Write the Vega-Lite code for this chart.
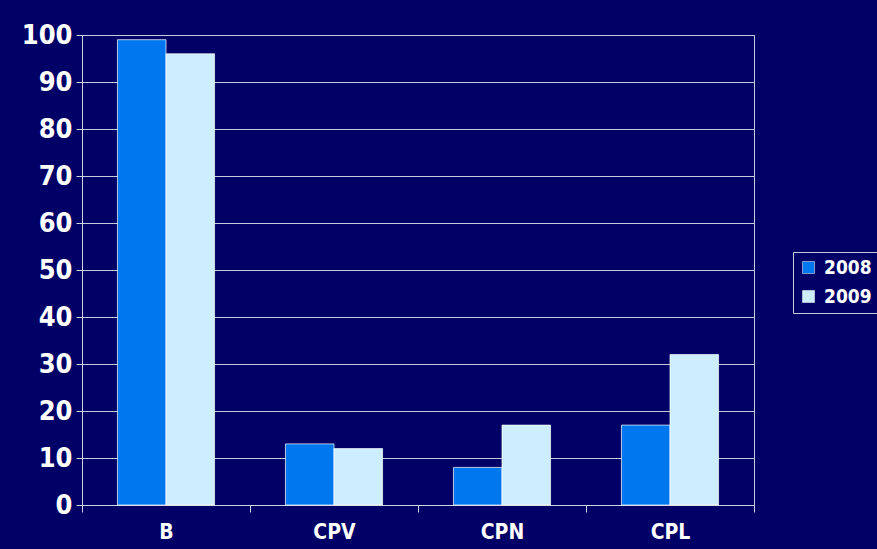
{
  "$schema": "https://vega.github.io/schema/vega-lite/v6.json",
  "autosize": "none",
  "width": 672,
  "height": 470,
  "padding": {"left": 82, "top": 35, "right": 123, "bottom": 44},
  "background": "#000066",
  "config": {
    "view": {"stroke": "#c8c8dc", "strokeWidth": 1},
    "font": "DejaVu Sans Condensed"
  },
  "data": {
    "values": [
      {"category": "B", "year": "2008", "value": 99},
      {"category": "B", "year": "2009", "value": 96},
      {"category": "CPV", "year": "2008", "value": 13},
      {"category": "CPV", "year": "2009", "value": 12},
      {"category": "CPN", "year": "2008", "value": 8},
      {"category": "CPN", "year": "2009", "value": 17},
      {"category": "CPL", "year": "2008", "value": 17},
      {"category": "CPL", "year": "2009", "value": 32}
    ]
  },
  "mark": {"type": "bar", "stroke": "#ffffff", "strokeWidth": 1, "strokeOpacity": 0.7},
  "encoding": {
    "x": {
      "field": "category",
      "type": "nominal",
      "sort": ["B", "CPV", "CPN", "CPL"],
      "scale": {"paddingInner": 0, "paddingOuter": 0},
      "axis": {
        "title": null,
        "labelAngle": 0,
        "labelColor": "#ffffff",
        "labelFontSize": 21,
        "labelFontWeight": "bold",
        "labelPadding": 9,
        "domainColor": "#d0d0e0",
        "tickColor": "#d0d0e0",
        "tickSize": 7,
        "tickBand": "extent",
        "grid": false
      }
    },
    "xOffset": {"field": "year", "type": "nominal", "scale": {"paddingInner": 0, "paddingOuter": 0.73}},
    "y": {
      "field": "value",
      "type": "quantitative",
      "scale": {"domain": [0, 100]},
      "axis": {
        "title": null,
        "values": [0, 10, 20, 30, 40, 50, 60, 70, 80, 90, 100],
        "labelColor": "#ffffff",
        "labelFontSize": 27,
        "labelFontWeight": "bold",
        "labelPadding": 4,
        "gridColor": "#c8c8dc",
        "gridWidth": 1,
        "domainColor": "#d0d0e0",
        "tickColor": "#d0d0e0",
        "tickSize": 6
      }
    },
    "color": {
      "field": "year",
      "type": "nominal",
      "scale": {"domain": ["2008", "2009"], "range": ["#0077ee", "#cceeff"]},
      "legend": {
        "title": null,
        "orient": "none",
        "legendX": 711,
        "legendY": 217,
        "strokeColor": "#c8c8dc",
        "padding": 6,
        "symbolType": "square",
        "symbolSize": 144,
        "symbolStrokeColor": "#ffffff",
        "symbolStrokeWidth": 0.5,
        "labelColor": "#ffffff",
        "labelFontSize": 19,
        "labelFontWeight": "bold",
        "labelOffset": 6,
        "rowPadding": 9
      }
    }
  }
}
